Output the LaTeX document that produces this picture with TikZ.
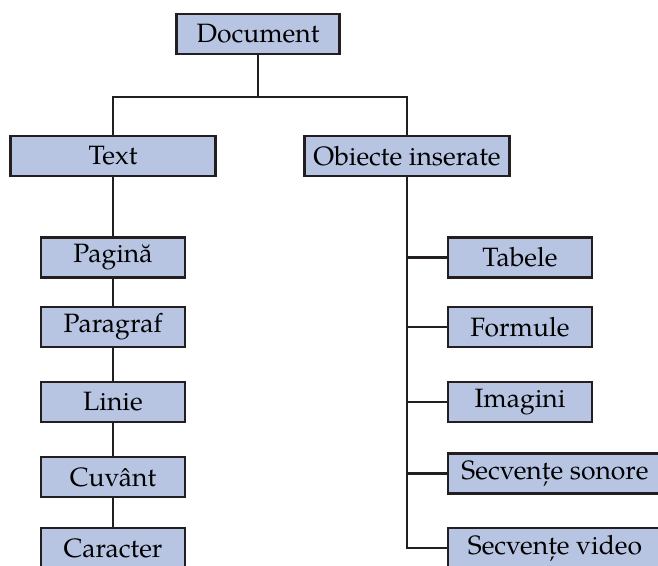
\documentclass[tikz,border=0pt]{standalone}
\usepackage{fontspec}
\setmainfont{TeX Gyre Pagella}
\usetikzlibrary{positioning, calc}

\definecolor{boxfill}{RGB}{183,196,226}
\definecolor{boxline}{RGB}{35,31,32}

\begin{document}
\begin{tikzpicture}[
    x=1pt, y=-1pt,
    boxstyle/.style={
        draw=boxline,
        fill=boxfill,
        line width=2.8pt,
        rectangle,
        inner sep=0pt,
        minimum height=40pt,
        minimum width=#1
    },
    boxstyle/.default=144pt,
    linkstyle/.style={
        draw=boxline,
        line width=2.8pt
    },
    font=\fontsize{26.5}{30}\selectfont
]

% frame of the picture
\clip (0,0) rectangle (658,565);

% parameters
\def\lx{113}
\def\rx{407}
\def\cx{520}

% top levels
\node[boxstyle=163pt] (doc) at (258,34) {Document};
\node[boxstyle=205pt] (text) at (\lx,156) {Text};
\node[boxstyle=205pt] (obj) at (\rx,156) {Obiecte inserate};
\coordinate (bar) at (doc.south |- 0,97);

% left column
\node[boxstyle] (pag) at (\lx,257.5) {Pagină};
\node[boxstyle] (par) at (\lx,327) {Paragraf};
\node[boxstyle] (lin) at (\lx,402) {Linie};
\node[boxstyle] (cuv) at (\lx,477) {Cuvânt};
\node[boxstyle] (car) at (\lx,548) {Caracter};

% right column
\node[boxstyle] (tab) at (\cx,257.5) {Tabele};
\node[boxstyle] (for) at (\cx,327) {Formule};
\node[boxstyle] (img) at (\cx,402) {Imagini};
\node[boxstyle=214pt] (son) at (555,473.5) {Secvențe sonore};
\node[boxstyle=214pt] (vid) at (555,548) {Secvențe video};

% connectors
\draw[linkstyle] (doc) -- (bar);
\draw[linkstyle] (text.north) |- (bar) -| (obj.north);
\draw[linkstyle] (text) -- (pag) -- (par) -- (lin) -- (cuv) -- (car);
\draw[linkstyle] (obj.south) |- (vid.west);
\foreach \n in {tab, for, img, son}{
  \draw[linkstyle] (obj.south |- \n.west) -- (\n.west);
}

\end{tikzpicture}
\end{document}
